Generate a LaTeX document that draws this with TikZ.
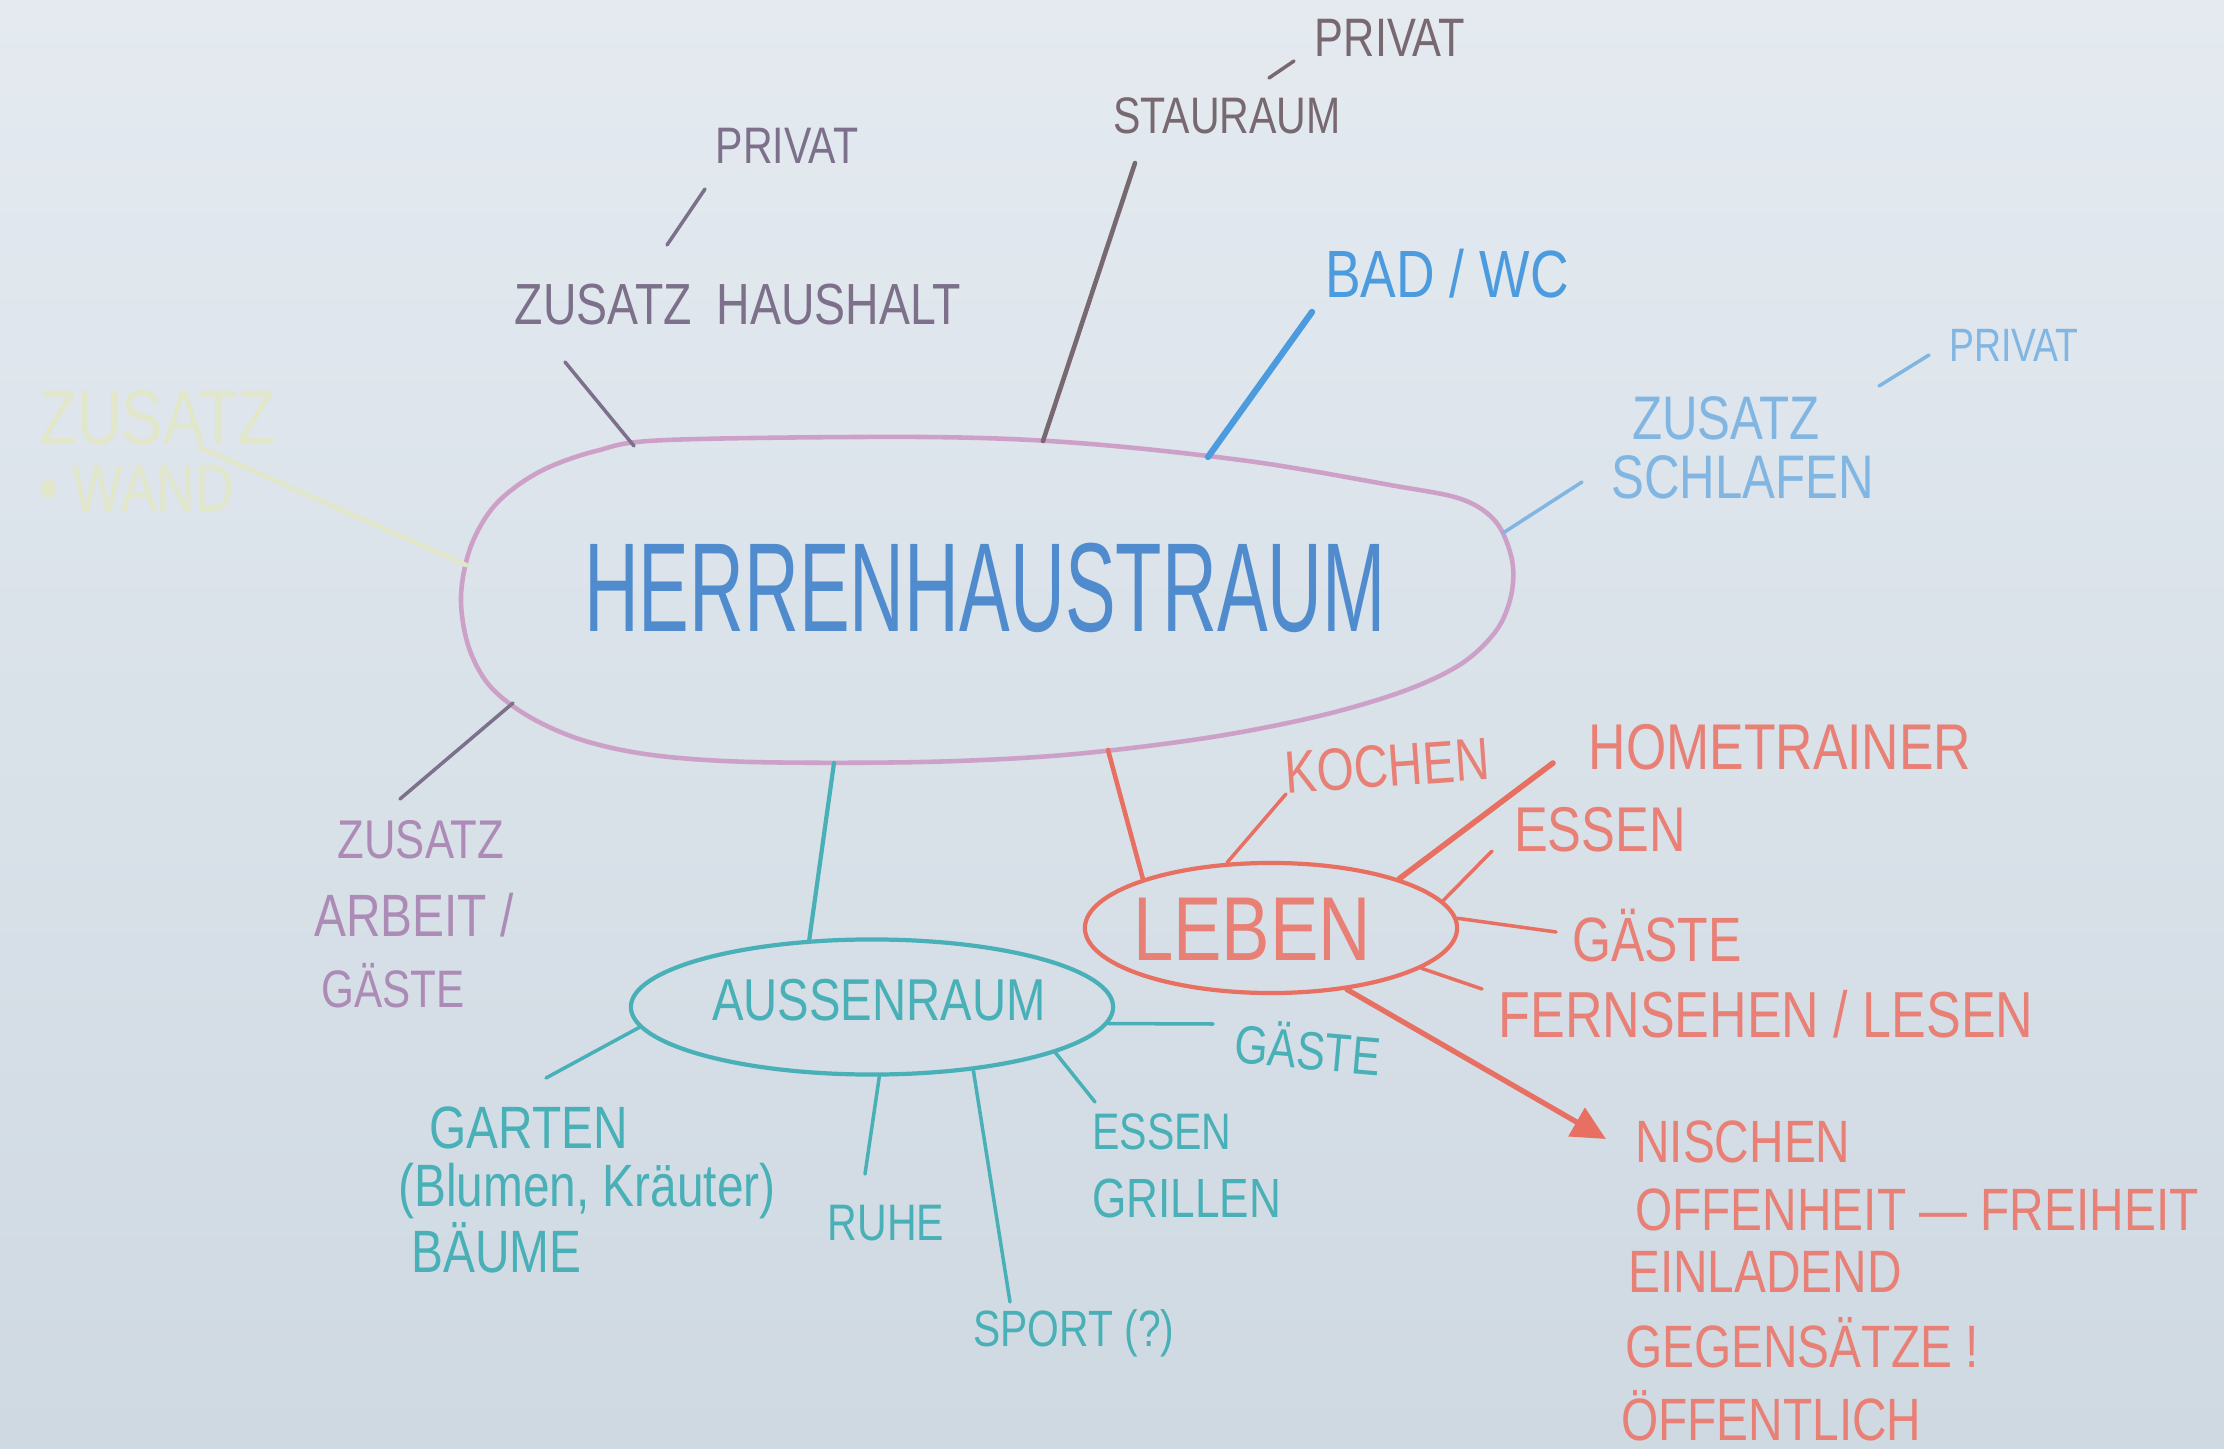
\documentclass[tikz,border=0pt]{standalone}
\usepackage{graphicx}
\usepackage{fontspec}
\setmainfont{Liberation Sans}
\newfontfamily\hand[FakeStretch=0.8]{Liberation Sans}
\usetikzlibrary{shapes.geometric,arrows.meta}
\definecolor{papertop}{RGB}{228,234,240}
\definecolor{paperbot}{RGB}{207,217,226}
\definecolor{titleblue}{RGB}{80,140,205}
\definecolor{pinkring}{RGB}{205,160,200}
\definecolor{graypurple}{RGB}{125,112,138}
\definecolor{brownline}{RGB}{120,105,112}
\definecolor{badblue}{RGB}{75,155,222}
\definecolor{lightblue}{RGB}{130,182,226}
\definecolor{faintyellow}{RGB}{226,231,202}
\definecolor{mauve}{RGB}{172,140,182}
\definecolor{teal}{RGB}{72,176,182}
\definecolor{salmon}{RGB}{232,128,118}
\definecolor{redline}{RGB}{232,112,98}
\newcommand\hsz[1]{\hand\fontsize{#1}{#1}\selectfont}
\begin{document}
\begin{tikzpicture}[x=0.01cm,y=-0.01cm,
  lbl/.style={inner sep=1pt},
  pencil/.style={line width=1pt, line cap=round},
  ring/.style={ellipse, draw, line width=1.2pt, inner sep=0pt}]
\shade[top color=papertop, bottom color=paperbot] (0,0) rectangle (2224,1449);
\useasboundingbox (0,0) rectangle (2224,1449);

% central egg
\draw[pinkring, line width=1.3pt] plot[smooth cycle, tension=0.55] coordinates {
 (461,596) (471,546) (496,504) (539,472) (596,451) (667,440)
 (922,437) (1078,443) (1248,461) (1390,485) (1461,499) (1496,522)
 (1512,560) (1511,596) (1496,631) (1461,664) (1404,691) (1319,716)
 (1206,738) (1064,755) (922,762) (752,762) (652,755) (582,740)
 (528,716) (489,685) (468,645)};
\node[lbl, text=titleblue] (main) at (985,588) {\hsz{36}\scalebox{0.75}[1]{HERRENHAUSTRAUM}};
\coordinate (ezh) at (634,446);
\coordinate (est) at (1043,441);
\coordinate (ebad) at (1208,457);
\coordinate (ezs) at (1503,533);
\coordinate (eyel) at (466,565);
\coordinate (earb) at (513,703);
\coordinate (eaus) at (834,763);
\coordinate (eleb) at (1108,750);

% ZUSATZ HAUSHALT
\node[lbl, text=graypurple] (zh) at (738,305) {\hsz{16.5}ZUSATZ\hspace{0.25cm}HAUSHALT};
\node[lbl, text=graypurple] (privL) at (787,146) {\hsz{14.6}PRIVAT};
\coordinate (czh) at (565,362);
\draw[pencil, graypurple] (ezh) -- (czh);
\coordinate (cpl1) at (667,245);
\coordinate (cpl2) at (705,189);
\draw[pencil, graypurple] (cpl1) -- (cpl2);

% STAURAUM
\node[lbl, text=brownline] (stau) at (1227,116) {\hsz{14.6}STAURAUM};
\node[lbl, text=brownline] (privT) at (1390,38) {\hsz{15.4}PRIVAT};
\coordinate (cst) at (1135,163);
\draw[pencil, brownline, line width=1.3pt] (est) -- (cst);
\coordinate (cpt1) at (1269,78);
\coordinate (cpt2) at (1294,61);
\draw[pencil, brownline] (cpt1) -- (cpt2);

% BAD / WC
\node[lbl, text=badblue] (bad) at (1447,274) {\hsz{19}BAD / WC};
\coordinate (cbad) at (1312,312);
\draw[pencil, badblue, line width=1.8pt] (ebad) -- (cbad);

% ZUSATZ SCHLAFEN
\node[lbl, anchor=west, text=lightblue] (zs1) at (1628,418) {\hsz{17.5}ZUSATZ};
\node[lbl, anchor=west, text=lightblue] (zs2) at (1607,477) {\hsz{17.5}SCHLAFEN};
\node[lbl, text=lightblue] (privR) at (2014,345) {\hsz{13.3}PRIVAT};
\coordinate (czs) at (1582,482);
\draw[pencil, lightblue] (ezs) -- (czs);
\coordinate (cpr1) at (1879,386);
\coordinate (cpr2) at (1929,355);
\draw[pencil, lightblue] (cpr1) -- (cpr2);

% faint yellow
\node[lbl, anchor=west, text=faintyellow] (yel1) at (35,418) {\hsz{22}ZUSATZ};
\node[lbl, anchor=west, text=faintyellow] (yel2) at (35,489) {\hsz{19}\textbullet\ WAND};
\coordinate (cyel) at (199,447);
\draw[pencil, faintyellow, line width=1.3pt] (eyel) -- (cyel);

% ZUSATZ ARBEIT / GAESTE
\node[lbl, text=mauve] (arb1) at (421,840) {\hsz{15.5}ZUSATZ};
\node[lbl, text=mauve] (arb2) at (414,915) {\hsz{17}ARBEIT /};
\node[lbl, text=mauve] (arb3) at (393,986) {\hsz{15}GÄSTE};
\coordinate (carb) at (400,799);
\draw[pencil, graypurple] (earb) -- (carb);

% AUSSENRAUM
\node[ring, draw=teal, minimum width=4.82cm, minimum height=1.35cm] (aus) at (872,1007) {};
\node[lbl, text=teal] (austxt) at (879,1000) {\hsz{16.8}AUSSENRAUM};
\draw[pencil, teal, line width=1.2pt] (eaus) -- (aus.133);

\node[lbl, text=teal, rotate=-5] (gasteA) at (1308,1047) {\hsz{15.3}GÄSTE};
\coordinate (cga) at (1213,1024);
\draw[pencil, teal] (aus.-4) -- (cga);

\node[lbl, anchor=west, text=teal] (gar1) at (425,1128) {\hsz{17}GARTEN};
\node[lbl, anchor=west, text=teal] (gar2) at (394,1191) {\hsz{17}(Blumen, Kräuter)};
\node[lbl, anchor=west, text=teal] (gar3) at (407,1248) {\hsz{17}BÄUME};
\coordinate (cgar) at (546,1078);
\draw[pencil, teal] (aus.185) -- (cgar);

\node[lbl, text=teal] (ruhe) at (886,1223) {\hsz{14.6}RUHE};
\coordinate (cruhe) at (865,1174);
\draw[pencil, teal] (aus.276) -- (cruhe);

\node[lbl, text=teal] (sport) at (1074,1333) {\hsz{14.5}SPORT (?)};
\coordinate (csport) at (1010,1302);
\draw[pencil, teal] (aus.328) -- (csport);

\node[lbl, anchor=west, text=teal] (essA) at (1088,1132) {\hsz{14.6}ESSEN};
\node[lbl, anchor=west, text=teal] (grill) at (1088,1198) {\hsz{15.7}GRILLEN};
\coordinate (cess) at (1095,1102);
\draw[pencil, teal] (aus.-14) -- (cess);

% LEBEN
\node[ring, draw=redline, minimum width=3.72cm, minimum height=1.30cm] (leben) at (1271,928) {};
\node[lbl, text=salmon] (lebtxt) at (1252,929) {\hsz{25.8}LEBEN};
\draw[pencil, redline, line width=1.3pt] (eleb) -- (leben.159);

\node[lbl, text=salmon, rotate=4] (kochen) at (1387,766) {\hsz{17}KOCHEN};
\coordinate (ckoch) at (1286,794);
\draw[pencil, redline] (leben.124) -- (ckoch);

\node[lbl, text=salmon] (home) at (1780,747) {\hsz{18.4}HOMETRAINER};
\coordinate (chome) at (1553,763);
\draw[pencil, redline, line width=1.6pt] (leben.21) -- (chome);

\node[lbl, text=salmon] (essL) at (1600,830) {\hsz{18}ESSEN};
\coordinate (cessL) at (1492,851);
\draw[pencil, redline] (leben.9) -- (cessL);

\node[lbl, text=salmon] (gasteL) at (1657,936) {\hsz{17.8}GÄSTE};
\coordinate (cgasL) at (1556,932);
\draw[pencil, redline] (leben.3) -- (cgasL);

\node[lbl, text=salmon] (fern) at (1766,1014) {\hsz{18.5}FERNSEHEN / LESEN};
\coordinate (cfern) at (1482,989);
\draw[pencil, redline] (leben.-15) -- (cfern);

\node[lbl, anchor=west, text=salmon] (n1) at (1631,1142) {\hsz{17}NISCHEN};
\node[lbl, anchor=west, text=salmon] (n2) at (1631,1210) {\hsz{17}OFFENHEIT — FREIHEIT};
\node[lbl, anchor=west, text=salmon] (n3) at (1624,1272) {\hsz{17}EINLADEND};
\node[lbl, anchor=west, text=salmon] (n4) at (1621,1343) {\hsz{17}GEGENSÄTZE !};
\node[lbl, anchor=west, text=salmon] (n5) at (1617,1416) {\hsz{17}ÖFFENTLICH};
\coordinate (carrow) at (1606,1139);
\draw[pencil, redline, line width=1.5pt, -{Triangle[length=0.34cm, width=0.32cm]}] (leben.-39) -- (carrow);
\end{tikzpicture}
\end{document}
